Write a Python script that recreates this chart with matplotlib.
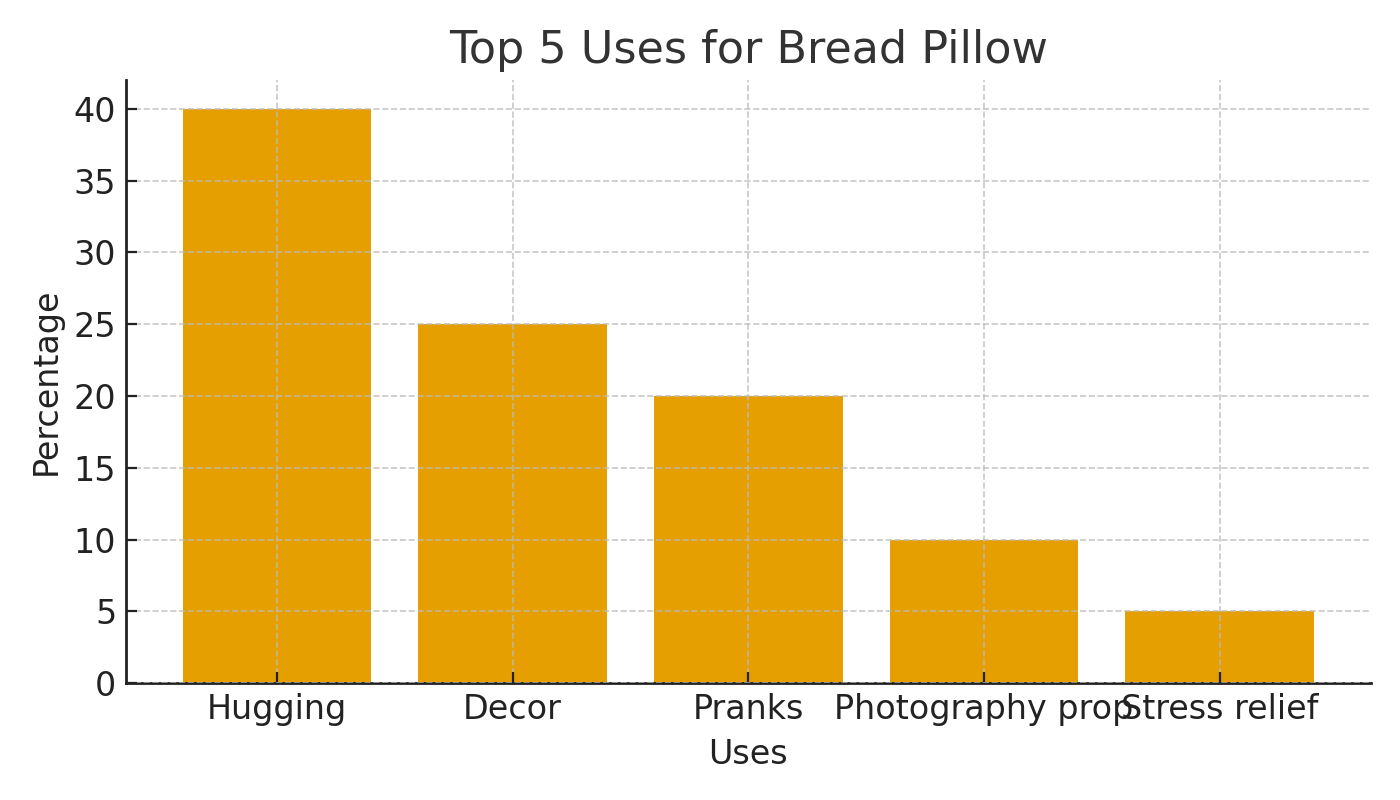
import matplotlib.pyplot as plt

# Uses of a bread pillow, share of respondents
uses = ["Hugging", "Decor", "Pranks", "Photography prop", "Stress relief"]
percentages = [40, 25, 20, 10, 5]

text_color = "#222222"

fig, ax = plt.subplots(figsize=(7, 4), dpi=200)
ax.bar(uses, percentages, color="#E69F00", width=0.8, zorder=1)

ax.grid(True, linestyle="--", color="#bbbbbb", linewidth=0.6, alpha=0.8, zorder=2)
ax.set_axisbelow(False)

ax.set_title("Top 5 Uses for Bread Pillow", fontsize=16, color="#333333")
ax.set_xlabel("Uses", fontsize=12, color=text_color, labelpad=4.5)
ax.set_ylabel("Percentage", fontsize=12, color=text_color)
ax.tick_params(axis="both", direction="in", labelsize=12, colors=text_color, length=4)

ax.spines["top"].set_visible(False)
ax.spines["right"].set_visible(False)
for side in ["left", "bottom"]:
    ax.spines[side].set_color(text_color)
    ax.spines[side].set_linewidth(1.0)

plt.subplots_adjust(left=0.09, right=0.979, top=0.9, bottom=0.146)
plt.savefig("out.png")
plt.close()
